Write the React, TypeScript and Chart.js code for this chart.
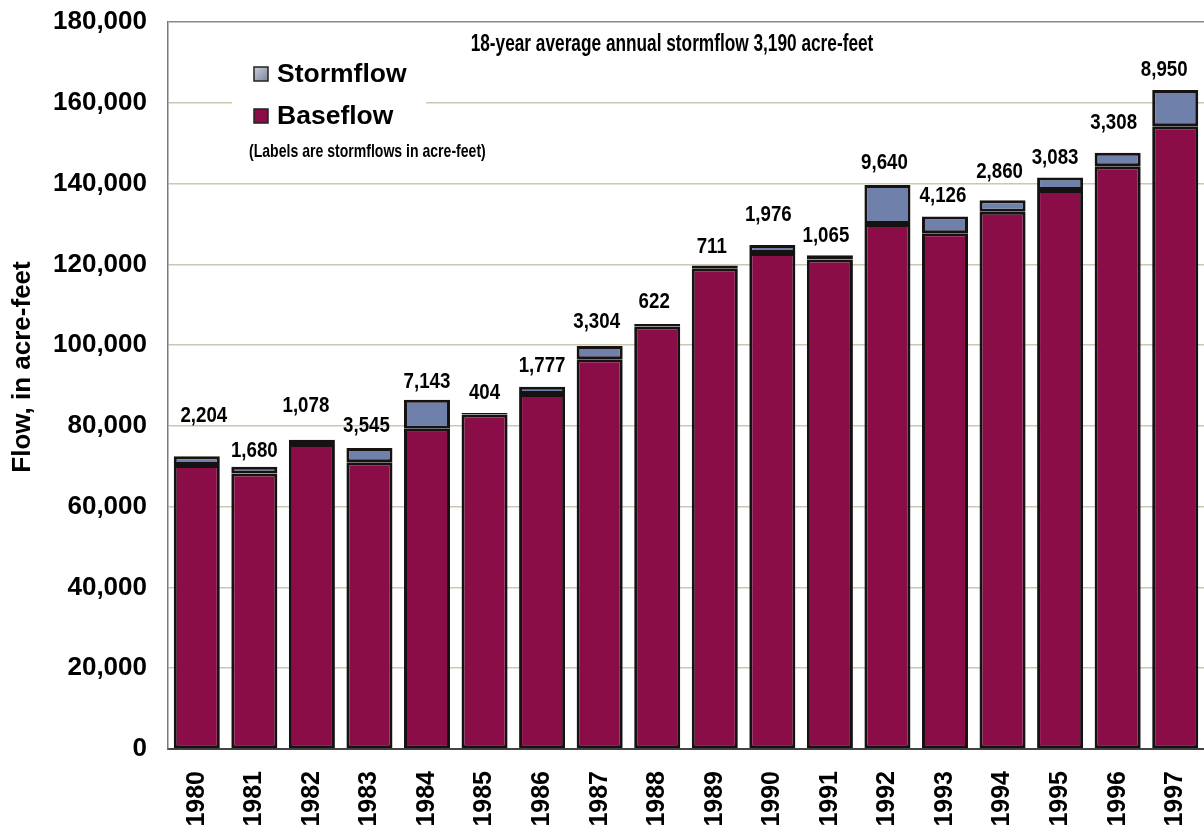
import React, { useEffect, useRef } from "react";
import { Chart, registerables } from "chart.js";

Chart.register(...registerables);

const years = ["1980","1981","1982","1983","1984","1985","1986","1987","1988","1989","1990","1991","1992","1993","1994","1995","1996","1997"];
const baseflow = [70300, 68200, 75500, 71000, 79300, 82800, 87900, 96500, 104600, 119000, 122800, 121200, 130000, 127700, 133000, 138400, 144300, 154200];
const stormflow = [2204, 1680, 1078, 3545, 7143, 404, 1777, 3304, 622, 711, 1976, 1065, 9640, 4126, 2860, 3083, 3308, 8950];
const yTicks = [0, 20000, 40000, 60000, 80000, 100000, 120000, 140000, 160000, 180000];
const titleText = "18-year average annual stormflow 3,190 acre-feet";
const noteText = "(Labels are stormflows in acre-feet)";
const yTitle = "Flow, in acre-feet";

// label placement tweaks (pixels, style only)
const labelLift = [40, 16, 34, 22, 18, 20, 21, 24, 22, 19, 30, 19, 22, 21, 28, 20, 30, 20];
const labelDx = [7, 0, -6, -3, 0, 0, 0, -3, -3, -3, -4, -4, -3, -2, -3, -5, -4, -11];

const BASE = "#8a0d48";
const STORM = "#6f80ab";
const OUTLINE = "#171212";
const FONT = '"Liberation Sans", Arial, sans-serif';

function fmt(n: number) {
  return n.toLocaleString("en-US");
}

function drawNarrow(ctx: CanvasRenderingContext2D, text: string, x: number, y: number, font: string, sx: number, align: CanvasTextAlign, rot = 0) {
  ctx.save();
  ctx.font = font;
  ctx.textBaseline = "middle";
  ctx.textAlign = align;
  ctx.fillStyle = "#000";
  ctx.translate(x, y);
  if (rot) ctx.rotate(rot);
  ctx.scale(sx, 1);
  ctx.fillText(text, 0, 0);
  ctx.restore();
}

const overlay = {
  id: "overlay",
  beforeDatasetsDraw(chart: any) {
    const ctx = chart.ctx as CanvasRenderingContext2D;
    ctx.save();
    ctx.fillStyle = "#fff";
    ctx.fillRect(232, 50, 194, 122);
    ctx.restore();
  },
  afterDraw(chart: any) {
    const ctx = chart.ctx as CanvasRenderingContext2D;
    // y axis title
    drawNarrow(ctx, yTitle, 23, 367, `bold 26px ${FONT}`, 1, "center", -Math.PI / 2);
    // title
    drawNarrow(ctx, titleText, 672, 45, `bold 23px ${FONT}`, 0.75, "center");
    // legend
    ctx.save();
    const g1 = ctx.createLinearGradient(254, 67, 268, 81);
    g1.addColorStop(0, "#c9cfdb");
    g1.addColorStop(1, "#7c879c");
    ctx.fillStyle = g1;
    ctx.fillRect(254, 67, 14, 14);
    ctx.strokeStyle = "#222";
    ctx.lineWidth = 1.5;
    ctx.strokeRect(254, 67, 14, 14);
    ctx.fillStyle = BASE;
    ctx.fillRect(254, 109, 14, 14);
    ctx.strokeRect(254, 109, 14, 14);
    ctx.restore();
    drawNarrow(ctx, "Stormflow", 277, 75, `bold 26px ${FONT}`, 1.02, "left");
    drawNarrow(ctx, "Baseflow", 277, 117, `bold 26px ${FONT}`, 1.02, "left");
    drawNarrow(ctx, noteText, 249, 152, `bold 19px ${FONT}`, 0.74, "left");
    // data labels
    const meta = chart.getDatasetMeta(1);
    meta.data.forEach((bar: any, i: number) => {
      drawNarrow(ctx, fmt(stormflow[i]), bar.x + labelDx[i], bar.y - labelLift[i], `bold 22px ${FONT}`, 0.85, "center");
    });
  },
};

export default function App() {
  const ref = useRef<HTMLCanvasElement | null>(null);
  useEffect(() => {
    document.body.style.margin = "0";
    const canvas = ref.current!;
    const chart = new Chart(canvas, {
      type: "bar",
      data: {
        labels: years,
        datasets: [
          {
            label: "Baseflow",
            data: baseflow,
            backgroundColor: BASE,
            borderColor: OUTLINE,
            borderWidth: 3,
            borderSkipped: false,
            barPercentage: 0.8,
            categoryPercentage: 1,
          },
          {
            label: "Stormflow",
            data: stormflow,
            backgroundColor: STORM,
            borderColor: OUTLINE,
            borderWidth: 3,
            borderSkipped: false,
            barPercentage: 0.8,
            categoryPercentage: 1,
          },
        ],
      },
      options: {
        responsive: false,
        animation: false,
        devicePixelRatio: 1,
        layout: { padding: { top: 22, right: 0, left: 0, bottom: 0 } },
        plugins: { legend: { display: false }, tooltip: { enabled: false }, title: { display: false } },
        scales: {
          x: {
            stacked: true,
            grid: { display: false },
            border: { display: true, color: "#444", width: 2 },
            ticks: {
              color: "#000",
              font: { family: FONT, size: 25, weight: "bold" },
              maxRotation: 90,
              minRotation: 90,
              padding: 14,
              autoSkip: false,
            },
            afterFit: (s: any) => {
              s.height = 81;
              s.paddingLeft = 0;
              s.paddingRight = 0;
            },
          },
          y: {
            stacked: true,
            min: 0,
            max: 180000,
            afterBuildTicks: (s: any) => { s.ticks = yTicks.map((v) => ({ value: v })); },
            grid: {
              color: (c: any) => (c.tick && c.tick.value === 180000 ? "#8a8a8a" : "#c9c9b2"),
              lineWidth: 1.5,
              drawTicks: false,
            },
            border: { display: true, color: "#7a7a7a", width: 1.5 },
            ticks: {
              color: "#000",
              font: { family: FONT, size: 26, weight: "bold" },
              padding: 21,
              callback: (v: any) => fmt(Number(v)),
            },
            title: { display: false },
            afterFit: (s: any) => {
              s.width = 168;
              s.paddingTop = 0;
              s.paddingBottom = 0;
            },
          },
        },
      },
      plugins: [overlay],
    });
    return () => chart.destroy();
  }, []);
  return (
    <div style={{ width: 1204, height: 830, background: "#fff" }}>
      <canvas ref={ref} width={1204} height={830} style={{ display: "block" }} />
    </div>
  );
}
